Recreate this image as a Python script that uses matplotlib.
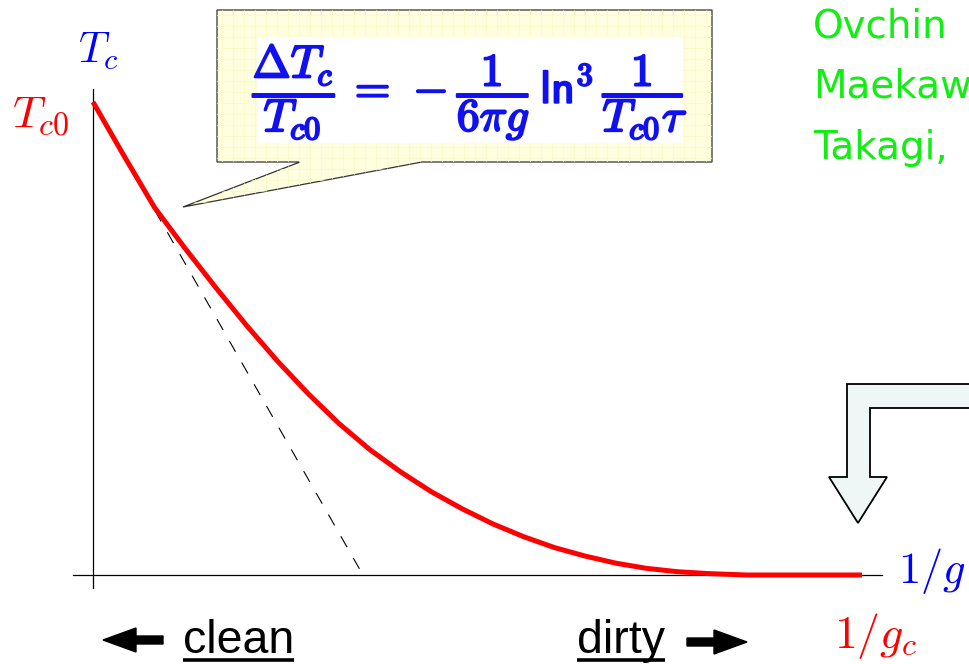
import matplotlib
matplotlib.use('Agg')
import matplotlib.pyplot as plt
import matplotlib.patches as mpatches
import matplotlib.patheffects as pe
from matplotlib.transforms import Affine2D
import numpy as np

plt.rcParams['mathtext.fontset'] = 'cm'
plt.rcParams['lines.scale_dashes'] = False

# Tc(1/g), x = 1/g (1/g_c = 1), y = Tc/Tc0
inv_g = [0.0, 0.04, 0.08, 0.12, 0.16, 0.20, 0.24, 0.28, 0.32, 0.36, 0.40,
         0.44, 0.48, 0.52, 0.56, 0.60, 0.64, 0.68, 0.72, 0.76, 0.80, 0.85, 1.0]
tc = [1.0, 0.887, 0.777, 0.690, 0.607, 0.527, 0.452, 0.383, 0.320, 0.265, 0.218,
      0.176, 0.140, 0.108, 0.081, 0.058, 0.040, 0.025, 0.014, 0.007, 0.003, 0.0, 0.0]

# linear (perturbative) slope at the clean end
tangent_x = [0.0, 0.351]
tangent_y = [1.0, 0.0]

# references, cut by the right edge in the original
refs = ['Ovchin', 'Maekaw', 'Takagi,']

W, H = 970, 664
fig = plt.figure(figsize=(W / 100, H / 100), dpi=100)
ax = fig.add_axes([0, 0, 1, 1])
ax.set_xlim(-93 / 769, 877 / 769)
ax.set_ylim(-89 / 473, 575 / 473)
ax.patch.set_visible(False)
ax.set_xticks([])
ax.set_yticks([])
for s in ['top', 'right']:
    ax.spines[s].set_visible(False)
ax.spines['left'].set_position(('data', 0))
ax.spines['bottom'].set_position(('data', 0))
ax.spines['left'].set_bounds(-0.027, 1.027)
ax.spines['bottom'].set_bounds(-0.026, 1.026)
for s in ['left', 'bottom']:
    ax.spines[s].set_linewidth(0.9)

ax.plot(tangent_x, tangent_y, color='black', lw=0.8, linestyle=(0, (9, 9)))
ax.plot(inv_g, tc, color='red', lw=3.6, solid_capstyle='butt', zorder=3)

# pixel transform (origin top-left) for the decorations
pix = Affine2D().scale(1 / W, -1 / H).translate(0, 1) + fig.transFigure

# axis labels
ax.text(78, 63, r'$T_c$', transform=pix, color='blue', fontsize=31, va='baseline')
ax.text(12, 128, r'$T_{c0}$', transform=pix, color='red', fontsize=33, va='baseline')
ax.text(898, 583, r'$1/g$', transform=pix, color='blue', fontsize=32, va='baseline')
ax.text(834, 648, r'$1/g_c$', transform=pix, color='red', fontsize=33, va='baseline')

# clean / dirty labels with arrows
t_clean = ax.text(183, 653, 'clean', transform=pix, fontsize=33.5,
                  family='Liberation Sans', va='baseline')
t_dirty = ax.text(577, 653, 'dirty', transform=pix, fontsize=33.5,
                  family='Liberation Sans', va='baseline')
ax.add_patch(mpatches.FancyArrow(163, 640, -60, 0, width=8, head_width=24,
                                 head_length=33, length_includes_head=True,
                                 color='black', transform=pix))
ax.add_patch(mpatches.FancyArrow(687, 642, 60, 0, width=8, head_width=24,
                                 head_length=33, length_includes_head=True,
                                 color='black', transform=pix))

fig.canvas.draw()
inv = pix.inverted()
for t in [t_clean, t_dirty]:
    bb = t.get_window_extent()
    (x0, _), (x1, _) = inv.transform([[bb.x0, bb.y0], [bb.x1, bb.y1]])
    ax.plot([x0, x1], [660, 660], color='black', lw=2.6, transform=pix,
            solid_capstyle='butt')

# callout with the formula
callout = mpatches.Polygon([(217, 10), (712, 10), (712, 162), (422, 162),
                            (183, 207), (300, 162), (217, 162)],
                           closed=True, facecolor='#ffffe0', edgecolor='#333333',
                           lw=0.9, transform=pix, zorder=4)
ax.add_patch(callout)
for gx in np.arange(222, 712, 11):
    ln, = ax.plot([gx, gx], [10, 207], color='#f8f8c6', lw=0.5, transform=pix, zorder=4)
    ln.set_clip_path(callout)
for gy in np.arange(15, 207, 11):
    ln, = ax.plot([183, 712], [gy, gy], color='#f8f8c6', lw=0.5, transform=pix, zorder=4)
    ln.set_clip_path(callout)
ax.add_patch(mpatches.Rectangle((258, 37), 425, 106, facecolor='white',
                                edgecolor='none', transform=pix, zorder=5))
ax.text(470, 92, r'$\dfrac{\Delta T_c}{T_{c0}}\,=\,-\dfrac{1}{6\pi g}\,\mathsf{ln}^3\,\dfrac{1}{T_{c0}\tau}$',
        transform=pix, color='#1010f0', fontsize=33, ha='center', va='center',
        zorder=6, path_effects=[pe.withStroke(linewidth=1.5, foreground='#1010f0')])

# references (cut by the right edge)
for i, name in enumerate(refs):
    ax.text(813, 37 + 61 * i, name, transform=pix, color='#11ee11', fontsize=28,
            family='DejaVu Sans', va='baseline')

# block arrow on the right
block = mpatches.Polygon([(990, 384), (847, 384), (847, 477), (829, 477),
                          (858, 523), (887, 477), (870, 477), (870, 408),
                          (990, 408)], closed=True, facecolor='#eef6f6',
                         edgecolor='black', lw=1.3, transform=pix)
ax.add_patch(block)

fig.savefig('out.png', dpi=100)
